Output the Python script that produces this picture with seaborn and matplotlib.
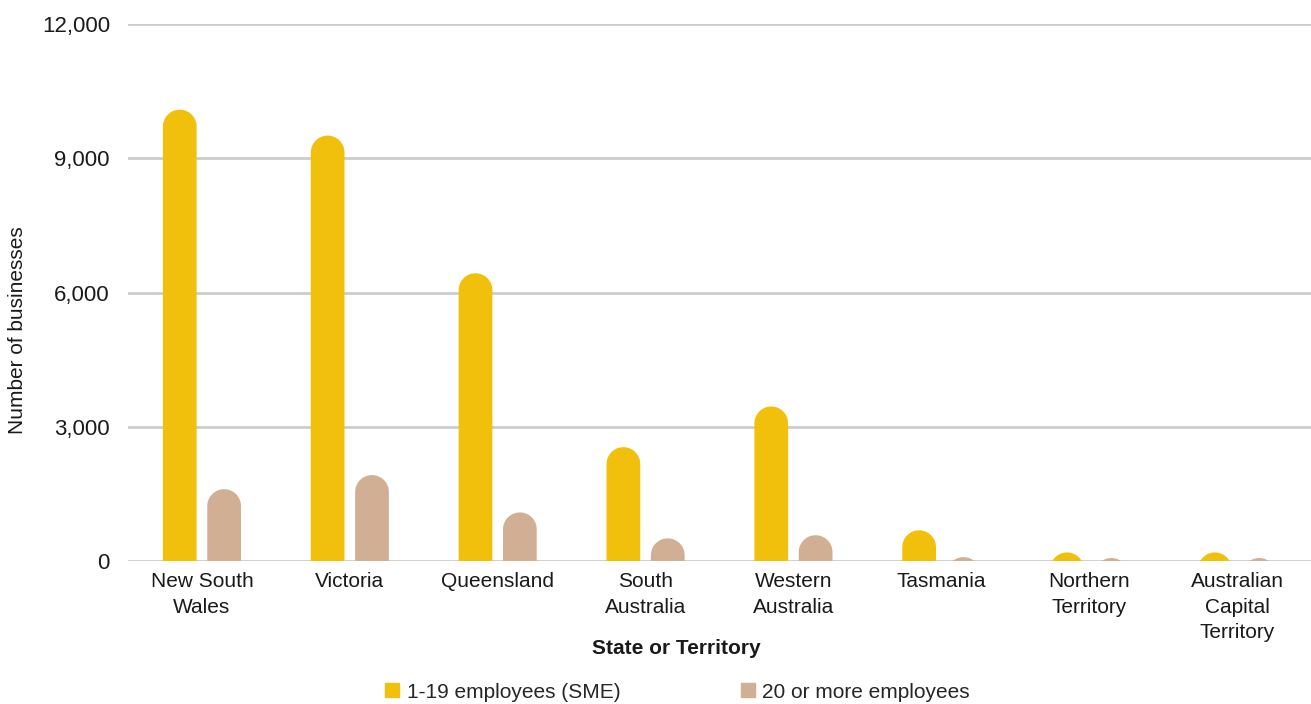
import matplotlib
matplotlib.use("Agg")
import matplotlib.pyplot as plt
import numpy as np
import pandas as pd
import seaborn as sns
from matplotlib.lines import Line2D
from matplotlib.patches import PathPatch
from matplotlib.path import Path

OUTPUT_PATH = "out.png"

COLOR_SME = "#F1C00D"
COLOR_LARGE = "#D1AF94"
COLOR_GRID = "#CCCCCC"
COLOR_TEXT = "#1A1A1A"

STATES = [
    "New South\nWales",
    "Victoria",
    "Queensland",
    "South\nAustralia",
    "Western\nAustralia",
    "Tasmania",
    "Northern\nTerritory",
    "Australian\nCapital\nTerritory",
]
SME_COUNTS = [10090, 9510, 6430, 2540, 3450, 680, 185, 185]
LARGE_COUNTS = [1600, 1915, 1080, 500, 570, 80, 60, 60]
SERIES = ["1-19 employees (SME)", "20 or more employees"]
Y_TICKS = [0, 3000, 6000, 9000, 12000]


def build_data():
    wide = pd.DataFrame({"state": STATES, SERIES[0]: SME_COUNTS, SERIES[1]: LARGE_COUNTS})
    return wide.melt(id_vars="state", var_name="size", value_name="businesses")


def round_bar_tops(fig, ax):
    # swap seaborn rectangles for bars with a semicircular top
    fig.canvas.draw()
    bbox = ax.get_window_extent()
    x0, x1 = ax.get_xlim()
    y0, y1 = ax.get_ylim()
    px_x = bbox.width / (x1 - x0)
    px_y = bbox.height / (y1 - y0)

    for rect in list(ax.patches):
        x, w, h = rect.get_x(), rect.get_width(), rect.get_height()
        color = rect.get_facecolor()
        rect.remove()
        rx = w / 2
        ry = rx * px_x / px_y
        xc = x + rx
        theta = np.linspace(np.pi, 0, 40)
        arc_x = xc + rx * np.cos(theta)
        arc_y = (h - ry) + ry * np.sin(theta)
        xs = np.concatenate([[x], arc_x, [x + w], [x]])
        ys = np.concatenate([[-5000], arc_y, [-5000], [-5000]])
        verts = np.column_stack([xs, ys])
        codes = [Path.MOVETO] + [Path.LINETO] * (len(verts) - 2) + [Path.CLOSEPOLY]
        ax.add_patch(PathPatch(Path(verts, codes), facecolor=color, edgecolor="none", zorder=3))


def plot_chart(data):
    sns.set_theme(style="white")
    plt.rcParams["font.family"] = ["Liberation Sans", "DejaVu Sans"]

    fig = plt.figure(figsize=(13.11, 7.04), dpi=100)
    ax = fig.add_axes([128 / 1311, (704 - 560.7) / 704, 1183 / 1311, 536.4 / 704])

    sns.barplot(
        data=data,
        x="state",
        y="businesses",
        hue="size",
        palette=[COLOR_SME, COLOR_LARGE],
        saturation=1,
        width=0.6,
        gap=0.24,
        legend=False,
        ax=ax,
    )

    ax.set_xlim(-0.5, len(STATES) - 0.5)
    ax.set_ylim(0, 12000)
    ax.set_yticks(Y_TICKS)
    ax.set_yticklabels([f"{v:,}" for v in Y_TICKS])
    ax.yaxis.grid(True, color=COLOR_GRID, linewidth=2)
    ax.xaxis.grid(False)
    ax.set_axisbelow(True)
    for spine in ax.spines.values():
        spine.set_visible(False)

    ax.tick_params(axis="y", length=0, pad=13, labelsize=16, colors=COLOR_TEXT)
    ax.tick_params(axis="x", length=0, pad=8, labelsize=15, colors=COLOR_TEXT)
    for lbl in ax.get_xticklabels():
        lbl.set_linespacing(1.45)

    ax.set_xlabel("")
    ax.set_ylabel("")
    fig.text(676 / 1311, 1 - 648 / 704, "State or Territory", ha="center", va="center",
             fontsize=15, fontweight="bold", color=COLOR_TEXT)
    fig.text(18 / 1311, 1 - 330 / 704, "Number of businesses", ha="center", va="center",
             rotation=90, fontsize=15, color=COLOR_TEXT)

    round_bar_tops(fig, ax)

    handles = [
        Line2D([], [], marker="s", linestyle="none", markersize=10, color=c)
        for c in [COLOR_SME, COLOR_LARGE]
    ]
    fig.legend(
        handles,
        SERIES,
        loc="center",
        bbox_to_anchor=(678 / 1311, 1 - 692 / 704),
        ncol=2,
        frameon=False,
        fontsize=15,
        handlelength=0.6,
        handletextpad=0.4,
        columnspacing=5.8,
        borderaxespad=0,
    )

    fig.savefig(OUTPUT_PATH, dpi=100, facecolor="white")
    plt.close(fig)


def main():
    data = build_data()
    plot_chart(data)


if __name__ == "__main__":
    main()
